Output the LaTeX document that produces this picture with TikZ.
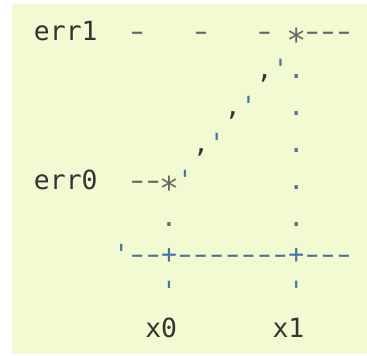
\documentclass[tikz,border=0pt]{standalone}
\usepackage{graphicx}
\usepackage{fontspec}
\setmonofont{DejaVu Sans Mono}
\definecolor{paper}{RGB}{241,250,208}
\definecolor{ink}{RGB}{51,51,51}
\definecolor{dimink}{RGB}{102,102,102}
\definecolor{wire}{RGB}{75,114,168}
% one monospace cell: long hyphen and centred asterisk
\newcommand\hy{\makebox[0.60205em]{\scalebox{1.5}[1]{-}}}
\newcommand\hitmark{\makebox[0.60205em]{\smash{\raisebox{-0.42em}{\scalebox{1.25}{*}}}}}
\begin{document}
\begin{tikzpicture}[x=15.9pt,y=-37.1pt,
  glyph/.style={anchor=base west, inner sep=0pt, outer sep=0pt, font=\ttfamily\fontsize{26.4}{37}\selectfont},
  word/.style={glyph, text=ink},
  faint/.style={glyph, text=dimink},
  trace/.style={glyph, text=wire}]
\useasboundingbox (-2.138,-1.105) rectangle (20.943,8.464);
\fill[paper] (-1.384,-0.997) rectangle (20.943,8.437);
% top level
\node[word] (err1) at (0,0) {err1};
\node[faint] (gapa) at (6,0) {\hy};
\node[faint] (gapb) at (10,0) {\hy};
\node[faint] (gapc) at (14,0) {\hy};
\node[faint] (hit1) at (16,0) {\hitmark\hy\hy\hy};
% rising slope
\node[word] (slopea) at (14,1) {,};
\node[trace] (ticka) at (15,1) {'};
\node[trace] (dropa) at (16,1) {.};
\node[word] (slopeb) at (12,2) {,};
\node[trace] (tickb) at (13,2) {'};
\node[trace] (dropb) at (16,2) {.};
\node[word] (slopec) at (10,3) {,};
\node[trace] (tickc) at (11,3) {'};
\node[trace] (dropc) at (16,3) {.};
% bottom level
\node[word] (err0) at (0,4) {err0};
\node[faint] (hit0) at (6,4) {\hy\hy\hitmark};
\node[trace] (tickd) at (9,4) {'};
\node[trace] (dropd) at (16,4) {.};
\node[faint] (drop0) at (8,5) {.};
\node[faint] (drope) at (16,5) {.};
% axis
\node[trace] (axis) at (5,6) {'\hy\hy+\hy\hy\hy\hy\hy\hy\hy+\hy\hy\hy};
\node[trace] (foot0) at (8,7) {'};
\node[trace] (foot1) at (16,7) {'};
\node[word] (x0) at (7,8) {x0};
\node[word] (x1) at (15,8) {x1};
\end{tikzpicture}
\end{document}
